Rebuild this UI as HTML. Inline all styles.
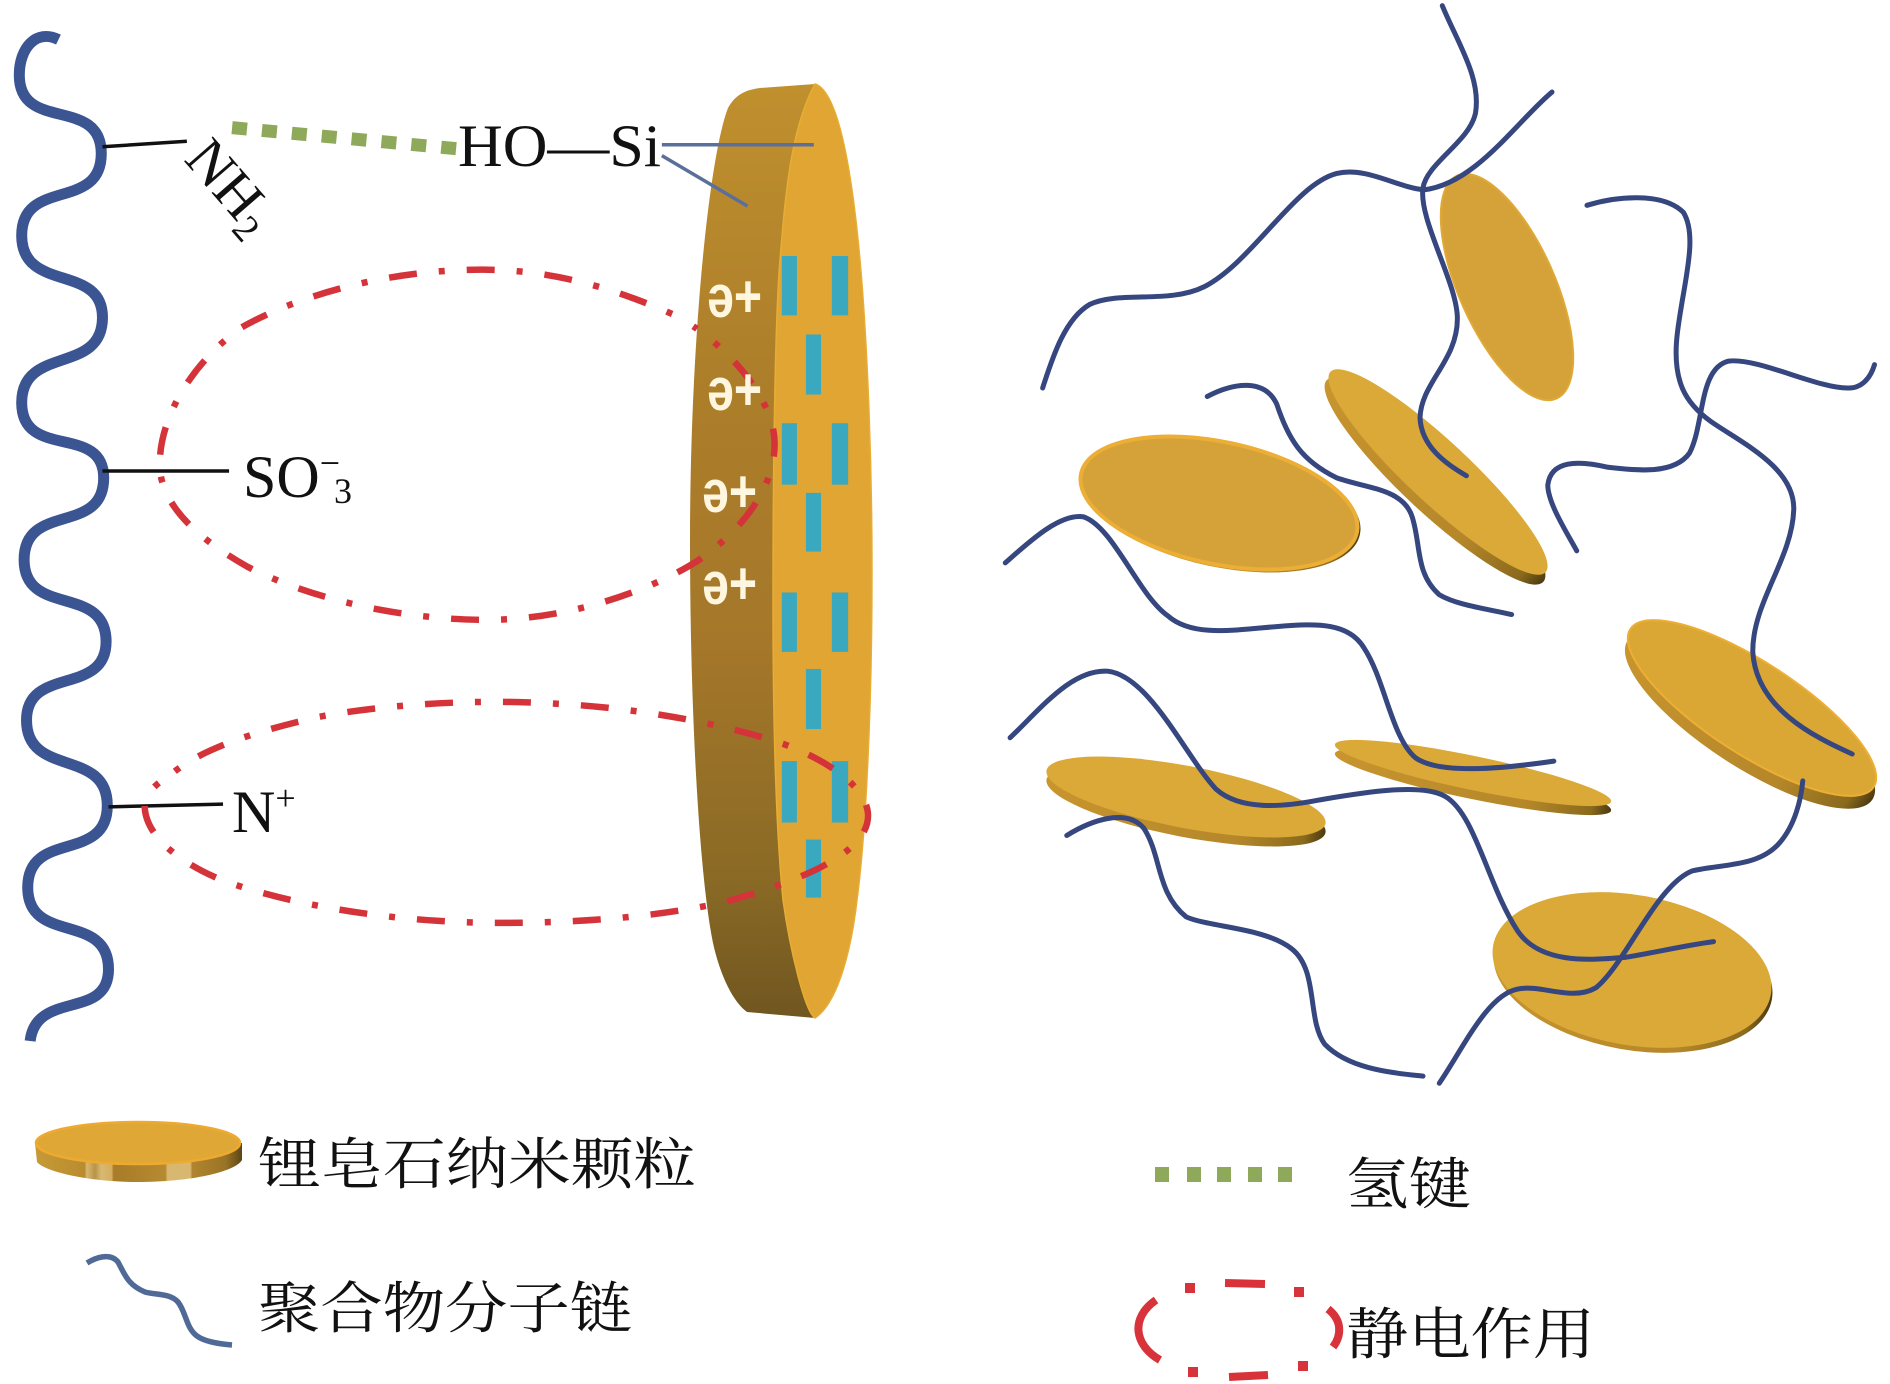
<!DOCTYPE html>
<html><head><meta charset="utf-8"><style>
html,body{margin:0;padding:0;background:#fff;width:1890px;height:1384px;overflow:hidden}
svg{display:block}
.n{vector-effect:non-scaling-stroke;fill:none}
.c{vector-effect:non-scaling-stroke;fill:none;stroke:#36467f;stroke-width:5;stroke-linecap:round}
.r{vector-effect:non-scaling-stroke;fill:none;stroke:#d5333a;stroke-width:6.5;stroke-dasharray:6 22 28 22}
.s{font-family:"Liberation Serif",serif;fill:#111}
.z{font-family:"Liberation Serif","Noto Serif CJK SC",serif;fill:#111;font-size:56px}
.d{font-family:"Liberation Sans",sans-serif;font-weight:bold;fill:#fff6df;font-size:60px}
</style></head><body>
<svg width="1890" height="1384" viewBox="0 0 1890 1384" xmlns="http://www.w3.org/2000/svg">
<defs>
<linearGradient id="side" x1="0" y1="0" x2="0" y2="1"><stop offset="0" stop-color="#c0902e"/><stop offset=".3" stop-color="#ad7f2a"/><stop offset=".6" stop-color="#a5772a"/><stop offset=".85" stop-color="#8a6a25"/><stop offset="1" stop-color="#705620"/></linearGradient>
<linearGradient id="edge" x1="0" y1="0" x2="1" y2="0"><stop offset="0" stop-color="#c8952e"/><stop offset=".7" stop-color="#b5872a"/><stop offset=".93" stop-color="#8a6a1c"/><stop offset="1" stop-color="#4d3a10"/></linearGradient>
<linearGradient id="leg" x1="35" y1="0" x2="242" y2="0" gradientUnits="userSpaceOnUse">
<stop offset="0" stop-color="#c69a35"/><stop offset=".24" stop-color="#b98c30"/><stop offset=".25" stop-color="#d8b870"/><stop offset=".29" stop-color="#b8944a"/><stop offset=".32" stop-color="#d8b870"/><stop offset=".37" stop-color="#d4ae62"/><stop offset=".38" stop-color="#a87c28"/><stop offset=".63" stop-color="#b58a30"/><stop offset=".64" stop-color="#d8b870"/><stop offset=".75" stop-color="#d8b870"/><stop offset=".76" stop-color="#b08530"/><stop offset=".92" stop-color="#9a7426"/><stop offset="1" stop-color="#5d4614"/></linearGradient>
</defs>

<g transform="scale(.6028,.6826)">
<path class="n" stroke="#3b5593" stroke-width="11" d="M97,58 C60,42 32,70 32,110 C32,195 168,140 168,225 C168,310 36,260 36,345 C36,430 170,385 170,465 C170,550 36,505 36,590 C36,675 172,620 172,700 C172,785 40,735 40,820 C40,905 176,855 176,940 C176,1020 44,975 44,1055 C44,1140 178,1095 178,1180 C178,1265 46,1215 46,1300 C46,1385 180,1335 180,1420 C180,1495 60,1450 50,1525"/>
<path class="n" stroke="#111" stroke-width="3.5" d="M170,215 L310,207 M170,690 L380,690 M180,1182 L370,1178"/>
<path class="n" stroke="#8fa95a" stroke-width="13" stroke-dasharray="15 15" d="M385,187 L760,218"/>
</g>

<path fill="url(#side)" d="M815,84 L760,88 C745,90 735,95 728,108 C708,160 690,350 690,540 C690,720 700,880 713,943 C720,975 733,1002 747,1012 L815,1018 Z"/>
<path fill="#e0a532" stroke="#e8ad35" stroke-width="1.5" d="M815,84 C835,90 850,150 860,260 C868,350 872,470 872,570 C872,720 865,840 857,900 C850,960 835,1005 815,1018 C805,1012 790,950 783,900 C775,820 773,700 773,600 C773,470 775,320 780,260 C785,200 790,130 815,84 Z"/>

<g transform="scale(.6028,.6826)">
<g fill="#3aa9c0">
<rect x="1297" y="375" width="25" height="87"/><rect x="1380" y="375" width="27" height="87"/>
<rect x="1337" y="490" width="25" height="88"/>
<rect x="1297" y="620" width="25" height="90"/><rect x="1380" y="620" width="27" height="90"/>
<rect x="1337" y="722" width="25" height="86"/>
<rect x="1297" y="868" width="25" height="87"/><rect x="1380" y="868" width="27" height="87"/>
<rect x="1337" y="980" width="25" height="88"/>
<rect x="1297" y="1115" width="25" height="90"/><rect x="1380" y="1115" width="27" height="90"/>
<rect x="1337" y="1230" width="25" height="85"/>
</g>
<path class="n" stroke="#5a6f9a" stroke-width="3.5" d="M1098,212 L1350,212 M1098,228 L1240,302"/>
<path class="r" d="M1115,460 C1000,415 900,395 800,395 C650,395 500,430 400,480 C320,530 265,610 265,680 C265,740 330,790 410,830 C520,880 680,910 820,908 C960,905 1090,860 1160,820 C1240,770 1285,710 1285,650 C1285,590 1220,520 1150,478"/>
<path class="r" d="M290,1130 C340,1095 430,1070 530,1050 C650,1030 800,1025 900,1030 C1050,1035 1200,1060 1300,1090 C1390,1120 1440,1160 1440,1195 C1440,1250 1330,1290 1200,1322 C1080,1345 950,1352 830,1352 C650,1352 480,1325 370,1290 C300,1265 240,1225 240,1180 C240,1160 265,1145 290,1130"/>
</g>

<text class="s" font-size="60" x="458" y="166" textLength="203" lengthAdjust="spacingAndGlyphs">HO—Si</text>
<text class="s" font-size="58" transform="translate(183,160) rotate(49)">NH<tspan font-size="38" dy="10">2</tspan></text>
<text class="s" font-size="60" x="243" y="497">SO<tspan font-size="36" dy="-22">−</tspan><tspan font-size="36" dy="28" dx="-6">3</tspan></text>
<text class="s" font-size="60" x="232" y="832">N<tspan font-size="36" dy="-22">+</tspan></text>
<text class="d" x="707" y="317" textLength="55" lengthAdjust="spacingAndGlyphs">ə+</text>
<text class="d" x="707" y="410" textLength="55" lengthAdjust="spacingAndGlyphs">ə+</text>
<text class="d" x="702" y="512" textLength="55" lengthAdjust="spacingAndGlyphs">ə+</text>
<text class="d" x="702" y="604" textLength="55" lengthAdjust="spacingAndGlyphs">ə+</text>

<g>
<ellipse cx="1507" cy="287" rx="122" ry="48" transform="rotate(66 1507 287)" fill="#d5a23a" stroke="#e0a935" stroke-width="2"/>

<ellipse cx="1221" cy="505" rx="142" ry="62" transform="rotate(12 1221 505)" fill="url(#edge)"/>
<ellipse cx="1219" cy="503" rx="141" ry="61" transform="rotate(12 1219 503)" fill="#d5a23a" stroke="#ecae35" stroke-width="4"/>

<ellipse cx="1435" cy="481" rx="148" ry="32" transform="rotate(43 1435 481)" fill="url(#edge)"/>
<ellipse cx="1438" cy="472" rx="147" ry="31" transform="rotate(43 1438 472)" fill="#dba937"/>

<ellipse cx="1750" cy="720" rx="146" ry="47" transform="rotate(33 1750 720)" fill="url(#edge)"/>
<ellipse cx="1752" cy="708" rx="145" ry="46" transform="rotate(33 1752 708)" fill="#dba734" stroke="#ecae35" stroke-width="2"/>

<ellipse cx="1473" cy="782" rx="141" ry="17" transform="rotate(11.7 1473 782)" fill="url(#edge)"/>
<ellipse cx="1473" cy="773" rx="141" ry="17" transform="rotate(11.7 1473 773)" fill="#dba937"/>

<ellipse cx="1186" cy="806" rx="142" ry="31" transform="rotate(10.8 1186 806)" fill="url(#edge)"/>
<ellipse cx="1186" cy="797" rx="142" ry="31" transform="rotate(10.8 1186 797)" fill="#dba937"/>

<ellipse cx="1633" cy="975" rx="141" ry="75" transform="rotate(10 1633 975)" fill="url(#edge)"/>
<ellipse cx="1632" cy="970" rx="141" ry="75" transform="rotate(10 1632 970)" fill="#dba937"/>
</g>

<g transform="translate(945,0) scale(.6028,.708)">
<path class="c" d="M825,8 C850,60 890,110 880,160 C870,200 800,230 793,265 C785,310 850,400 850,450 C850,510 790,540 788,590 C790,630 830,655 865,672"/>
<path class="c" d="M1007,130 C950,170 880,260 795,268 C750,265 700,235 650,245 C580,260 510,370 430,405 C370,430 290,410 240,430 C200,450 180,500 162,548"/>
<path class="c" d="M1065,290 C1110,278 1190,270 1225,300 C1250,335 1225,400 1215,470 C1205,540 1230,570 1270,595 C1320,625 1410,660 1408,720 C1405,790 1340,850 1340,920 C1345,1000 1440,1040 1505,1065"/>
<path class="c" d="M1048,778 C1030,750 1000,710 1000,685 C1005,650 1050,650 1100,660 C1150,665 1210,670 1235,640 C1260,600 1250,520 1300,510 C1350,505 1450,550 1500,548 C1520,548 1535,535 1542,515"/>
<path class="c" d="M435,560 C480,540 530,535 550,570 C570,620 590,650 650,675 C700,690 760,690 775,730 C790,770 780,810 820,840 C850,855 900,860 940,868"/>
<path class="c" d="M100,795 C140,765 190,725 230,730 C280,745 320,840 370,870 C410,900 480,890 550,885 C620,880 670,880 695,915 C730,960 740,1040 780,1070 C820,1095 930,1085 1010,1075"/>
<path class="c" d="M108,1042 C160,1000 210,945 270,948 C340,955 400,1070 450,1115 C490,1145 560,1140 620,1130 C690,1120 790,1105 830,1125 C880,1150 900,1250 950,1315 C990,1365 1080,1355 1130,1352 C1180,1345 1230,1335 1275,1330"/>
<path class="c" d="M202,1180 C240,1160 300,1140 330,1170 C360,1210 350,1260 400,1295 C440,1310 530,1310 575,1340 C620,1370 600,1440 630,1475 C670,1510 740,1515 793,1520"/>
<path class="c" d="M820,1530 C860,1480 900,1405 950,1397 C990,1390 1040,1415 1080,1395 C1130,1360 1180,1250 1240,1230 C1290,1220 1350,1225 1385,1190 C1410,1165 1420,1130 1423,1103"/>
</g>

<path fill="url(#leg)" d="M35,1143 L37,1162 C45,1172 90,1182 138,1182 C190,1182 235,1172 242,1160 L242,1143 Z"/>
<ellipse cx="138" cy="1143" rx="102" ry="21" fill="#dfa735" stroke="#eeaa30" stroke-width="2.5"/>
<path fill="none" stroke="#4f6a96" stroke-width="5.5" d="M87,1263 C95,1258 110,1252 118,1262 C125,1275 128,1285 145,1292 C155,1295 170,1293 178,1302 C186,1312 186,1328 197,1336 C205,1342 220,1344 232,1345"/>
<g fill="#8fa95a"><rect x="1155" y="1167" width="14" height="15"/><rect x="1187" y="1167" width="14" height="15"/><rect x="1217" y="1167" width="14" height="15"/><rect x="1248" y="1167" width="14" height="15"/><rect x="1278" y="1167" width="14" height="15"/></g>
<g fill="none" stroke="#d8333a" stroke-width="8">
<path d="M1156,1300 C1130,1318 1134,1345 1160,1360"/>
<path d="M1328,1309 C1342,1320 1342,1335 1333,1347"/>
<path d="M1225,1283 L1265,1284"/>
<path d="M1229,1377 L1268,1375"/>
</g>
<g fill="#d8333a"><rect x="1185" y="1283" width="10" height="10"/><rect x="1294" y="1287" width="10" height="10"/><rect x="1188" y="1367" width="10" height="10"/><rect x="1298" y="1361" width="10" height="10"/></g>
<text class="z" x="258" y="1184" textLength="438" lengthAdjust="spacingAndGlyphs">锂皂石纳米颗粒</text>
<text class="z" x="258" y="1328" textLength="374" lengthAdjust="spacingAndGlyphs">聚合物分子链</text>
<text class="z" x="1346" y="1204" textLength="125" lengthAdjust="spacingAndGlyphs">氢键</text>
<text class="z" x="1346" y="1354" textLength="249" lengthAdjust="spacingAndGlyphs">静电作用</text>
</svg>
</body></html>
